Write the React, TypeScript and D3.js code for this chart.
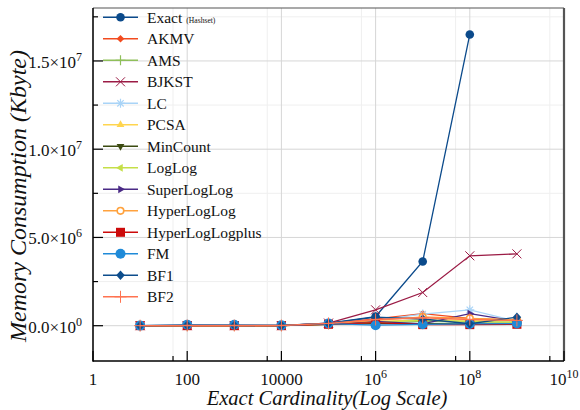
import React from 'react';
import * as d3 from 'd3';

// cardinalities measured
const cardinalities = [10, 100, 1e3, 1e4, 1e5, 1e6, 1e7, 1e8, 1e9];

// memory consumption (Kbyte), one array per method
const exact = [2000, 20000, 15000, 10000, 150000, 520000, 3640000, 16500000];
const akmv = [1000, 5000, 5000, 5000, 120000, 380000, 680000, 420000, 300000];
const ams = [1000, 2000, 2000, 2000, 80000, 150000, 250000, 200000, 200000];
const bjkst = [1000, 3000, 3000, 3000, 150000, 900000, 1880000, 3960000, 4070000];
const lc = [1000, 3000, 3000, 3000, 120000, 300000, 660000, 900000, 250000];
const pcsa = [1000, 2000, 2000, 2000, 100000, 250000, 330000, 320000, 300000];
const minCount = [1000, 2000, 2000, 2000, 80000, 120000, 120000, 100000, 100000];
const logLog = [1000, 2000, 2000, 2000, 90000, 200000, 300000, 250000, 200000];
const superLogLog = [1000, 2000, 2000, 2000, 100000, 250000, 100000, 680000, 250000];
const hyperLogLog = [1000, 3000, 3000, 3000, 110000, 300000, 500000, 420000, 350000];
const hyperLogLogPlus = [1000, 1000, 1000, 1000, 80000, 170000, 60000, 60000, 80000];
const fm = [5000, 60000, 50000, 20000, 120000, 30000, 80000, 100000, 120000];
const bf1 = [2000, 20000, 15000, 10000, 130000, 480000, 380000, 110000, 480000];
const bf2 = [2000, 10000, 10000, 10000, 130000, 350000, 450000, 350000, 300000];

const seriesNames = ['Exact', 'AKMV', 'AMS', 'BJKST', 'LC', 'PCSA', 'MinCount', 'LogLog',
  'SuperLogLog', 'HyperLogLog', 'HyperLogLogplus', 'FM', 'BF1', 'BF2'];
const seriesValues = [exact, akmv, ams, bjkst, lc, pcsa, minCount, logLog,
  superLogLog, hyperLogLog, hyperLogLogPlus, fm, bf1, bf2];

const xTickValues = [1, 100, 1e4, 1e6, 1e8, 1e10];
const xMinorTicks = [50, 5000, 5e5, 5e7, 5e9];
const yTickValues = [0, 5e6, 1e7, 1.5e7];
const yMinorTicks = [2.5e6, 7.5e6, 1.25e7, 1.75e7];

const styles: { color: string; marker: string }[] = [
  { color: '#0b4a8b', marker: 'circle' },
  { color: '#f24b1f', marker: 'smalldiamond' },
  { color: '#8fbf5a', marker: 'plus' },
  { color: '#9b1b45', marker: 'cross' },
  { color: '#a9d4f7', marker: 'star' },
  { color: '#ffd54f', marker: 'up' },
  { color: '#3b4a10', marker: 'down' },
  { color: '#c5df48', marker: 'left' },
  { color: '#4a2a86', marker: 'right' },
  { color: '#ffa23e', marker: 'ring' },
  { color: '#cc0a0a', marker: 'square' },
  { color: '#1f8ad8', marker: 'bigcircle' },
  { color: '#0d4d8c', marker: 'diamond' },
  { color: '#ff7350', marker: 'thinplus' },
];

const W = 580, H = 410;
const left = 93, right = 564, top = 8, bottom = 361;
const serif = '"Liberation Serif", "Times New Roman", serif';

const x = d3.scaleLog().domain([1, 1e10]).range([left, right]);
const y = d3.scaleLinear().domain([-2e6, 1.8e7]).range([bottom, top]);

const Marker = ({ type, cx, cy, color }: { type: string; cx: number; cy: number; color: string }) => {
  const tri = (a: number) => {
    const r = 4.5;
    const pts = [0, 1, 2].map(i => {
      const t = a + i * (2 * Math.PI / 3);
      return `${cx + r * Math.cos(t)},${cy + r * Math.sin(t)}`;
    });
    return <polygon points={pts.join(' ')} fill={color} />;
  };
  switch (type) {
    case 'circle': return <circle cx={cx} cy={cy} r={4.3} fill={color} />;
    case 'bigcircle': return <circle cx={cx} cy={cy} r={5} fill={color} />;
    case 'ring': return <circle cx={cx} cy={cy} r={3.3} fill="#fff" stroke={color} strokeWidth={1.6} />;
    case 'square': return <rect x={cx - 4.5} y={cy - 4.5} width={9} height={9} fill={color} />;
    case 'smalldiamond': return <polygon points={`${cx},${cy - 3.8} ${cx + 3.8},${cy} ${cx},${cy + 3.8} ${cx - 3.8},${cy}`} fill={color} />;
    case 'diamond': return <polygon points={`${cx},${cy - 4.8} ${cx + 4.3},${cy} ${cx},${cy + 4.8} ${cx - 4.3},${cy}`} fill={color} />;
    case 'plus': return <path d={`M${cx - 5},${cy}H${cx + 5}M${cx},${cy - 5}V${cy + 5}`} stroke={color} strokeWidth={1.2} />;
    case 'thinplus': return <path d={`M${cx - 6},${cy}H${cx + 6}M${cx},${cy - 6}V${cy + 6}`} stroke={color} strokeWidth={1} />;
    case 'cross': return <path d={`M${cx - 4.5},${cy - 4.5}L${cx + 4.5},${cy + 4.5}M${cx - 4.5},${cy + 4.5}L${cx + 4.5},${cy - 4.5}`} stroke={color} strokeWidth={1} />;
    case 'star': return <path d={`M${cx - 4.5},${cy}H${cx + 4.5}M${cx},${cy - 4.5}V${cy + 4.5}M${cx - 3.2},${cy - 3.2}L${cx + 3.2},${cy + 3.2}M${cx - 3.2},${cy + 3.2}L${cx + 3.2},${cy - 3.2}`} stroke={color} strokeWidth={1.2} />;
    case 'up': return tri(-Math.PI / 2);
    case 'down': return tri(Math.PI / 2);
    case 'left': return tri(Math.PI);
    case 'right': return tri(0);
    default: return null;
  }
};

const App = () => {
  const line = d3.line<number>()
    .x((_, i) => x(cardinalities[i]))
    .y(d => y(d));

  const yLabel = (v: number) => {
    if (v === 0) return ['0.0', '0'];
    const e = Math.floor(Math.log10(v));
    return [(v / Math.pow(10, e)).toFixed(1), String(e)];
  };

  return (
    <svg width={W} height={H} style={{ position: 'absolute', left: 0, top: 0, background: '#fff' }}
      fontFamily={serif}>
      {/* grid */}
      {xMinorTicks.map(v => <line key={'gxm' + v} x1={x(v)} x2={x(v)} y1={top} y2={bottom} stroke="#efefef" />)}
      {yMinorTicks.map(v => <line key={'gym' + v} x1={left} x2={right} y1={y(v)} y2={y(v)} stroke="#efefef" />)}
      {xTickValues.map(v => <line key={'gx' + v} x1={x(v)} x2={x(v)} y1={top} y2={bottom} stroke="#d6d6d6" />)}
      {yTickValues.map(v => <line key={'gy' + v} x1={left} x2={right} y1={y(v)} y2={y(v)} stroke="#d6d6d6" />)}

      {/* series */}
      {seriesValues.map((vals, s) => (
        <g key={seriesNames[s]}>
          <path d={line(vals) || ''} fill="none" stroke={styles[s].color} strokeWidth={1.3} />
          {vals.map((v, i) => (
            <Marker key={i} type={styles[s].marker} cx={x(cardinalities[i])} cy={y(v)} color={styles[s].color} />
          ))}
        </g>
      ))}

      {/* frame */}
      <line x1={left} x2={right} y1={top} y2={top} stroke="#555" strokeWidth={1.2} />
      <line x1={right} x2={right} y1={top} y2={bottom} stroke="#555" strokeWidth={2.2} />
      <line x1={left} x2={left} y1={top} y2={bottom + 0.75} stroke="#000" strokeWidth={1.5} />
      <line x1={left} x2={right} y1={bottom} y2={bottom} stroke="#000" strokeWidth={1.5} />

      {/* y ticks */}
      {yTickValues.map(v => <line key={'ty' + v} x1={left} x2={left + 10} y1={y(v)} y2={y(v)} stroke="#000" strokeWidth={1.2} />)}
      {yMinorTicks.map(v => <line key={'tym' + v} x1={left} x2={left + 5} y1={y(v)} y2={y(v)} stroke="#000" strokeWidth={1.2} />)}
      {yTickValues.map(v => {
        const [m, e] = yLabel(v);
        return (
          <text key={'ly' + v} x={82} y={y(v) + 7} textAnchor="end" fontSize={17} fill="#111">
            {m}×10<tspan dy={-7} fontSize={12}>{e}</tspan>
          </text>
        );
      })}

      {/* x ticks */}
      {xTickValues.map(v => <line key={'tx' + v} x1={x(v)} x2={x(v)} y1={bottom} y2={bottom - 10} stroke="#000" strokeWidth={1.2} />)}
      {xMinorTicks.map(v => <line key={'txm' + v} x1={x(v)} x2={x(v)} y1={bottom} y2={bottom - 5} stroke="#000" strokeWidth={1.2} />)}
      {xTickValues.map(v => {
        const e = Math.round(Math.log10(v));
        return (
          <text key={'lx' + v} x={x(v)} y={385} textAnchor="middle" fontSize={17} fill="#111">
            {e < 6 ? String(v) : <>10<tspan dy={-7} fontSize={12}>{e}</tspan></>}
          </text>
        );
      })}

      {/* axis titles */}
      <text x={327} y={405} textAnchor="middle" fontSize={20.5} fontStyle="italic" fill="#111">
        Exact Cardinality(Log Scale)
      </text>
      <text transform="translate(26,196) rotate(-90)" textAnchor="middle" fontSize={24} fontStyle="italic" fill="#111">
        Memory Consumption (Kbyte)
      </text>

      {/* legend */}
      {seriesNames.map((name, s) => {
        const ly = 17.3 + s * 21.5;
        return (
          <g key={'lg' + name}>
            <line x1={103} x2={138} y1={ly} y2={ly} stroke={styles[s].color} strokeWidth={1.4} />
            <Marker type={styles[s].marker} cx={120.5} cy={ly} color={styles[s].color} />
            <text x={147} y={ly + 5.5} fontSize={15.5} fill="#111">
              {name}
              {s === 0 && <tspan dx={4} fontSize={7.6}>(Hashset)</tspan>}
            </text>
          </g>
        );
      })}
    </svg>
  );
};

export default App;
